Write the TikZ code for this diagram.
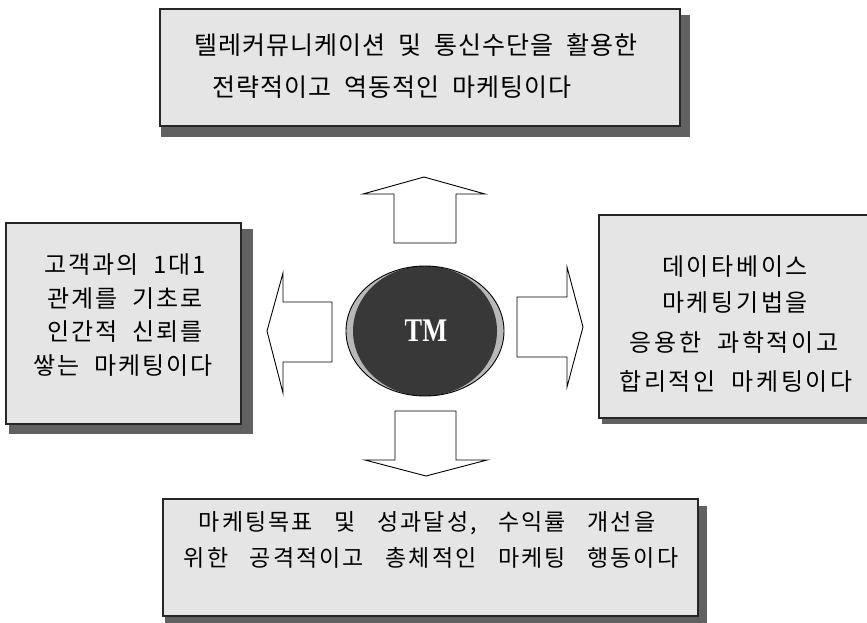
\documentclass[tikz,border=0pt]{standalone}
\usepackage{fontspec}
\newfontfamily\krA[LetterSpace=4,WordSpace=2]{Noto Sans CJK KR}
\newfontfamily\krB[LetterSpace=8,WordSpace=2]{Noto Sans CJK KR}
\newfontfamily\krC[LetterSpace=11,WordSpace=2]{Noto Sans CJK KR}
\newfontfamily\krD[LetterSpace=9,WordSpace=3]{Noto Sans CJK KR}
\newfontfamily\tmfont{Liberation Serif}
\usetikzlibrary{calc,backgrounds}
\definecolor{boxfill}{gray}{0.90}
\definecolor{shadowc}{gray}{0.38}
\definecolor{rimc}{gray}{0.72}
\definecolor{corec}{gray}{0.22}
\begin{document}
\begin{tikzpicture}[x=1pt,y=-1pt,
  box/.style={draw=black!85, line width=1.1pt, fill=boxfill, inner sep=0pt},
  shad/.style={fill=shadowc},
  txt/.style={inner sep=0pt, text=black},
  blockarrow/.style={draw=black, line width=0.9pt, fill=white, line join=miter}]
\useasboundingbox (0,0) rectangle (867,622);
\clip (0,0) rectangle (867,622);

% boxes
\node[box, minimum width=520pt, minimum height=117pt] (top) at (420,67.5) {};
\node[box, minimum width=235pt, minimum height=201pt] (left) at (123.5,323.5) {};
\node[box, minimum width=273pt, minimum height=203pt] (right) at (735.5,316.5) {};
\node[box, minimum width=535pt, minimum height=117pt] (bottom) at (430.5,557.5) {};

\begin{scope}[on background layer]
  \fill[shad] ($(top.north west)+(2,7)$) rectangle ($(top.south east)+(9,10)$);
  \fill[shad] ($(left.north west)+(4,7)$) rectangle ($(left.south east)+(11,9)$);
  \fill[shad] ($(right.north west)+(4,7)$) rectangle ($(right.south east)+(9,5)$);
  \fill[shad] ($(bottom.north west)+(3,8)$) rectangle ($(bottom.south east)+(8,9)$);
\end{scope}

% texts
\node[txt, font=\krA\fontsize{25}{28}\selectfont] (t1) at (416,45) {텔레커뮤니케이션 및 통신수단을 활용한};
\node[txt, font=\krA\fontsize{25}{28}\selectfont] (t2) at (392,87) {전략적이고 역동적인 마케팅이다};

\node[txt, font=\krB\fontsize{24}{28}\selectfont] (l1) at (125,265) {고객과의 1대1};
\node[txt, font=\krB\fontsize{24}{28}\selectfont] (l2) at (125,299) {관계를 기초로};
\node[txt, font=\krB\fontsize{24}{28}\selectfont] (l3) at (125,332) {인간적 신뢰를};
\node[txt, font=\krB\fontsize{24}{28}\selectfont] (l4) at (123,366) {쌓는 마케팅이다};

\node[txt, font=\krC\fontsize{24}{28}\selectfont] (r1) at (735,267) {데이타베이스};
\node[txt, font=\krC\fontsize{24}{28}\selectfont] (r2) at (735,303) {마케팅기법을};
\node[txt, font=\krC\fontsize{24}{28}\selectfont] (r3) at (734,342) {응용한 과학적이고};
\node[txt, font=\krC\fontsize{24}{28}\selectfont] (r4) at (736,381) {합리적인 마케팅이다};

\node[txt, font=\krD\fontsize{23}{26}\selectfont] (b1) at (427,523) {마케팅목표 및 성과달성, 수익률 개선을};
\node[txt, font=\krD\fontsize{23}{26}\selectfont] (b2) at (431,558) {위한 공격적이고 총체적인 마케팅 행동이다};

% block arrows
\draw[blockarrow] (424,177) -- (485,194) -- (456,194) -- (456,243) -- (394,243) -- (394,194) -- (363,194) -- cycle;
\draw[blockarrow] (426,476) -- (487,460) -- (456,460) -- (456,411) -- (395,411) -- (395,460) -- (365,460) -- cycle;
\draw[blockarrow] (267,331) -- (283,273) -- (283,302) -- (332,302) -- (332,362) -- (283,362) -- (283,393) -- cycle;
\draw[blockarrow] (583,327) -- (567,267) -- (567,297) -- (517,297) -- (517,357) -- (567,357) -- (567,387) -- cycle;

% centre disc
\fill[rimc] (425,331) ellipse [x radius=79, y radius=65];
\fill[corec] (425,331) ellipse [x radius=72, y radius=65];
\draw[line width=0.9pt] (425,331) ellipse [x radius=79, y radius=65];
\node[inner sep=0pt, text=white] (tm) at (426,331) {\scalebox{0.8}[1]{\tmfont\bfseries\fontsize{33}{36}\selectfont TM}};
\end{tikzpicture}
\end{document}
